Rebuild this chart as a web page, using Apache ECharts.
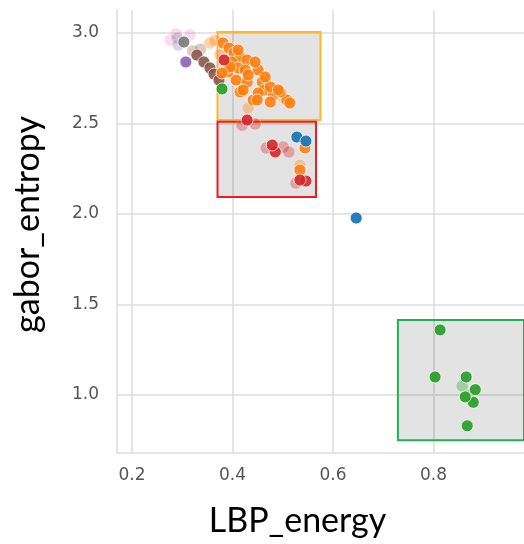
<!DOCTYPE html>
<html><head><meta charset="utf-8">
<script src="https://cdn.jsdelivr.net/npm/echarts@6/dist/echarts.min.js"></script>
<style>html,body{margin:0;padding:0;background:#fff}#c{width:524px;height:544px}</style>
</head><body><div id="c"></div>
<script>
// axis ticks
const xTicks = [0.2, 0.4, 0.6, 0.8];
const yTicks = [1.0, 1.5, 2.0, 2.5, 3.0];
// highlighted regions [x0, x1, y0, y1]
const boxOrange = [0.37, 0.575, 2.52, 3.005];
const boxRed = [0.37, 0.566, 2.094, 2.51];
const boxGreen = [0.729, 1.05, 0.751, 1.414];
// points [LBP_energy, gabor_entropy]
const blue = [[0.528, 2.425], [0.546, 2.403], [0.646, 1.978]];
const orange = [[0.381, 2.945], [0.393, 2.917], [0.403, 2.890], [0.415, 2.867], [0.399, 2.840], [0.429, 2.851],
  [0.411, 2.807], [0.425, 2.796], [0.451, 2.796], [0.407, 2.740], [0.429, 2.729], [0.415, 2.674],
  [0.459, 2.729], [0.463, 2.685], [0.481, 2.657], [0.508, 2.630], [0.441, 2.630], [0.451, 2.669],
  [0.391, 2.785], [0.475, 2.619], [0.495, 2.674], [0.395, 2.812], [0.379, 2.779], [0.475, 2.702],
  [0.491, 2.685], [0.514, 2.613], [0.449, 2.630], [0.421, 2.685], [0.431, 2.768], [0.445, 2.840],
  [0.465, 2.757], [0.411, 2.906], [0.544, 2.365], [0.534, 2.243]];
const orangeFaded = [[0.355, 2.945], [0.365, 2.96], [0.375, 2.88], [0.431, 2.586], [0.503, 2.64], [0.534, 2.27]];
const green = [[0.379, 2.691], [0.813, 1.36], [0.803, 1.10], [0.865, 1.10], [0.883, 1.03], [0.879, 0.96], [0.863, 0.99], [0.867, 0.83]];
const greenFaded = [[0.857, 1.05], [0.870, 1.00]];
const red = [[0.383, 2.851], [0.429, 2.519], [0.485, 2.343], [0.479, 2.381], [0.546, 2.182], [0.534, 2.188]];
const redFaded = [[0.419, 2.49], [0.445, 2.497], [0.467, 2.365], [0.501, 2.37], [0.526, 2.171], [0.512, 2.343]];
const brown = [[0.329, 2.878], [0.343, 2.840], [0.355, 2.807], [0.363, 2.773], [0.373, 2.740]];
const brownFaded = [[0.321, 2.90], [0.336, 2.91]];
const gray = [[0.303, 2.950]];
const grayFaded = [[0.290, 2.972]];
const purple = [[0.307, 2.840]];
const purpleFaded = [[0.292, 2.934]];
const pinkFaded = [[0.276, 2.961], [0.288, 2.994], [0.315, 2.989]];

const chart = echarts.init(document.getElementById('c'), null, {renderer: 'canvas'});
function pts(name, data, color, opacity) {
  return {type: 'scatter', name, data, symbolSize: 12, z: 3,
    itemStyle: {color, opacity, borderColor: '#fff', borderWidth: 0.8}};
}
function box(b, color) {
  return {type: 'scatter', data: [], z: 2,
    markArea: {silent: true, z: 1,
      itemStyle: {color: 'rgba(0,0,0,0.11)', borderColor: color, borderWidth: 2},
      data: [[{coord: [b[0], b[3]]}, {coord: [b[1], b[2]]}]]}};
}
const axisText = {fontFamily: 'DejaVu Sans', fontSize: 17, color: '#555'};
chart.setOption({
  animation: false,
  grid: {left: 117, right: 0, top: 10, bottom: 91, containLabel: false},
  xAxis: {type: 'value', min: 0.17, max: 0.98,
    name: 'LBP_energy', nameLocation: 'middle', nameGap: 51,
    nameTextStyle: {fontFamily: 'Lato', fontSize: 34, color: '#000', padding: [0, 46, 0, 0]},
    axisLine: {show: true, lineStyle: {color: '#ddd', width: 1.5}},
    axisTick: {show: false, customValues: xTicks},
    axisLabel: Object.assign({customValues: xTicks, margin: 14, formatter: v => v.toFixed(1)}, axisText),
    splitLine: {show: true, lineStyle: {color: '#ddd', width: 1.5}}},
  yAxis: {type: 'value', min: 0.68, max: 3.127,
    name: 'gabor_entropy', nameLocation: 'middle', nameGap: 72,
    nameTextStyle: {fontFamily: 'Lato', fontSize: 34, color: '#000', padding: [0, 0, 0, 14]},
    axisLine: {show: true, lineStyle: {color: '#ddd', width: 1.5}},
    axisTick: {show: false, customValues: yTicks},
    axisLabel: Object.assign({customValues: yTicks, margin: 18, formatter: v => v.toFixed(1)}, axisText),
    splitLine: {show: true, lineStyle: {color: '#ddd', width: 1.5}}},
  series: [
    box(boxOrange, '#fbb829'), box(boxRed, '#ee1c25'), box(boxGreen, '#22b14c'),
    pts('pink', pinkFaded, '#e377c2', 0.25),
    pts('gray', grayFaded, '#7f7f7f', 0.3),
    pts('purple', purpleFaded, '#9467bd', 0.3),
    pts('brown', brownFaded, '#8c564b', 0.3),
    pts('orange', orangeFaded, '#ff7f0e', 0.35),
    pts('red', redFaded, '#d62728', 0.35),
    pts('green', greenFaded, '#2ca02c', 0.35),
    pts('gray', gray, '#7f7f7f', 0.95),
    pts('purple', purple, '#9467bd', 0.95),
    pts('brown', brown, '#8c564b', 0.9),
    pts('orange', orange, '#ff7f0e', 0.9),
    pts('green', green, '#2ca02c', 0.95),
    pts('red', red, '#d62728', 0.9),
    pts('blue', blue, '#1f77b4', 0.95)
  ]
});
</script></body></html>
